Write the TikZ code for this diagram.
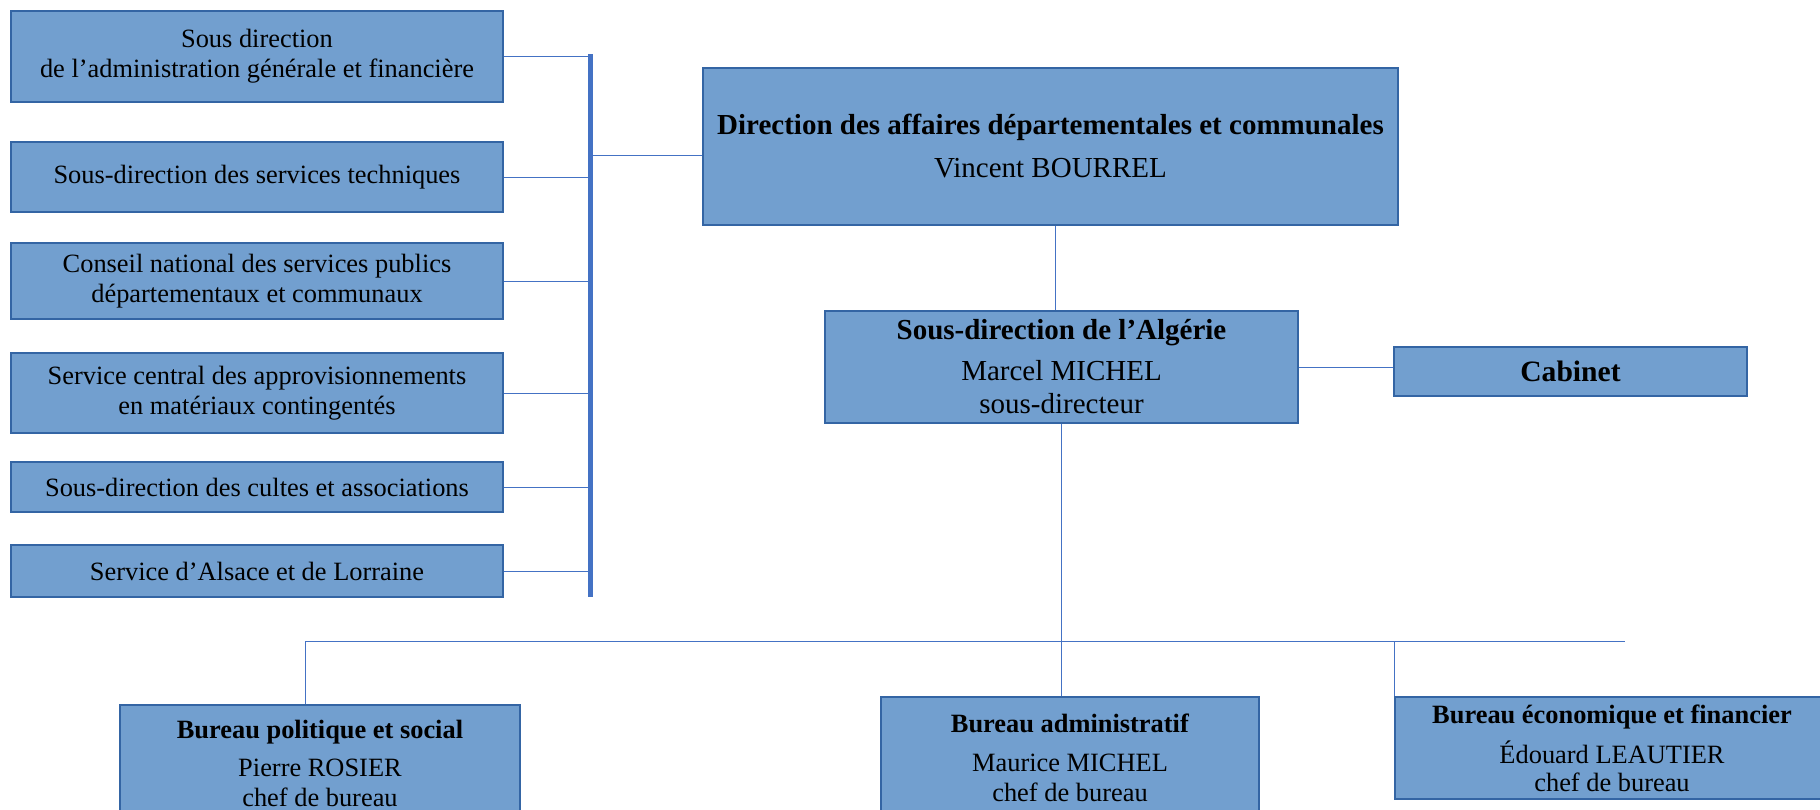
\documentclass[tikz,border=0pt]{standalone}
\usepackage{fontspec}
\setmainfont{Liberation Serif}
\usetikzlibrary{calc}

\definecolor{boxfill}{RGB}{114,159,207}
\definecolor{boxline}{RGB}{52,101,164}
\definecolor{linkblue}{RGB}{68,114,196}

\begin{document}
\begin{tikzpicture}[x=0.5pt, y=-0.5pt,
    unit/.style={draw=boxline, line width=0.7pt, fill=boxfill, inner sep=0pt, align=center, text=black},
    side/.style={unit, minimum width=246pt, font=\fontsize{13.2}{15}\selectfont},
    head/.style={unit, font=\fontsize{14.5}{16.5}\selectfont},
    bureau/.style={unit, font=\fontsize{13.2}{15}\selectfont},
    link/.style={draw=linkblue, line width=0.5pt},
    bar/.style={draw=linkblue, line width=2.5pt}]
    \clip (0,0) rectangle (1820,809);
    \node[side, minimum height=45.5pt] (sdag) at (257,56.5) {Sous direction\\de l’administration générale et financière};
    \node[side, minimum height=35pt] (sdst) at (257,177) {Sous-direction des services techniques};
    \node[side, minimum height=38pt] (cnsp) at (257,281) {Conseil national des services publics\\départementaux et communaux};
    \node[side, minimum height=40pt] (scam) at (257,393) {Service central des approvisionnements\\en matériaux contingentés};
    \node[side, minimum height=25pt] (sdca) at (257,487) {Sous-direction des cultes et associations};
    \node[side, minimum height=26pt] (sal) at (257,571) {Service d’Alsace et de Lorraine};
    \node[head, minimum width=347.5pt, minimum height=78.5pt] (dadc) at (1050.5,146.5)
        {\textbf{Direction des affaires départementales et communales}\\[5pt]Vincent BOURREL};
    \node[head, minimum width=236.5pt, minimum height=56pt] (sda) at (1061.5,367)
        {\textbf{Sous-direction de l’Algérie}\\[4pt]Marcel MICHEL\\sous-directeur};
    \node[head, minimum width=176.5pt, minimum height=24.5pt, font=\fontsize{14.8}{17}\selectfont\bfseries] (cab) at (1570.5,371.5) {Cabinet};
    \node[bureau, minimum width=200pt, minimum height=58.5pt] (bps) at (320,763.5)
        {\textbf{Bureau politique et social}\\[4pt]Pierre ROSIER\\chef de bureau};
    \node[bureau, minimum width=189pt, minimum height=60.5pt] (badm) at (1070,757.5)
        {\textbf{Bureau administratif}\\[4.5pt]Maurice MICHEL\\chef de bureau};
    \node[bureau, minimum width=225pt, minimum height=51pt] (bef) at (1620,748)
        {\hspace*{-8pt}\textbf{Bureau économique et financier}\\[5pt]\hspace*{-8pt}Édouard LEAUTIER\\[-1pt]\hspace*{-8pt}chef de bureau};
    \coordinate (bartop) at (590,54);
    \coordinate (barbot) at (590,597);
    \coordinate (barjoin) at (590,155);
    \coordinate (hleft) at (305,641);
    \coordinate (hright) at (1625,641);
    \coordinate (dadcfoot) at ($(dadc.south)+(5,0)$);
    \foreach \n in {sdag,sdst,cnsp,scam,sdca,sal}
        \draw[link] (\n.east) -- (\n.east -| bartop);
    \draw[bar] (bartop) -- (barbot);
    \draw[link] (barjoin) -- (barjoin -| dadc.west);
    \draw[link] (dadcfoot) -- (dadcfoot |- sda.north);
    \draw[link] (sda.east) -- (sda.east -| cab.west);
    \draw[link] (sda.south) -- (sda.south |- badm.north);
    \draw[link] (hleft) -- (hright);
    \draw[link] (hleft) -- (hleft |- bps.north);
    \draw[link] (bef.north west) -- (bef.north west |- hleft);
\end{tikzpicture}
\end{document}
